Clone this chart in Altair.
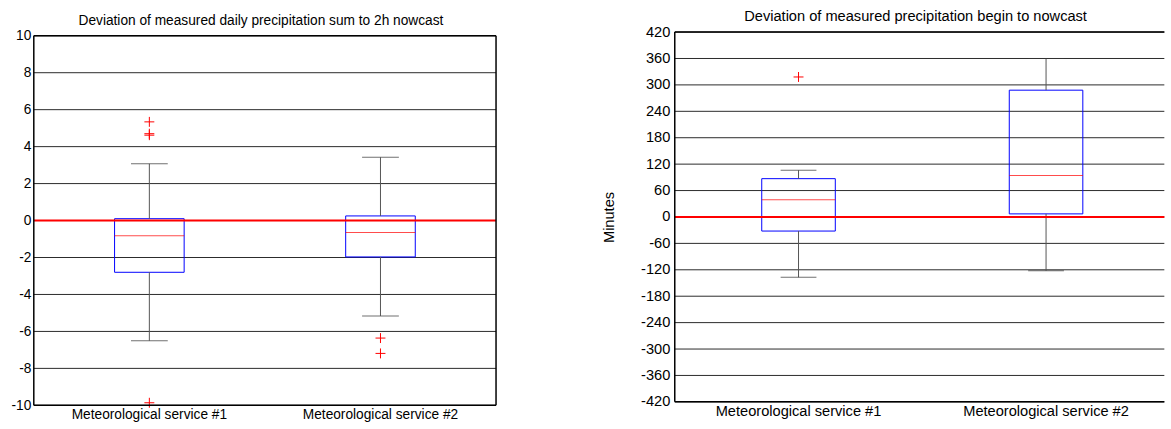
import altair as alt
import pandas as pd

services = ["Meteorological service #1", "Meteorological service #2"]

# Left panel: deviation of daily precipitation sum (box-plot statistics)
sum_lo = [-6.5, -5.16]
sum_q1 = [-2.8, -1.97]
sum_med = [-0.82, -0.65]
sum_q3 = [0.1, 0.25]
sum_hi = [3.07, 3.42]
sum_out_service = ["Meteorological service #1"] * 4 + ["Meteorological service #2"] * 2
sum_out_value = [5.34, 4.7, 4.62, -9.86, -6.36, -7.19]
sum_ticks = [-10, -8, -6, -4, -2, 0, 2, 4, 6, 8, 10]

# Right panel: deviation of precipitation begin (minutes)
begin_lo = [-137, -122]
begin_q1 = [-32, 7]
begin_med = [39, 94]
begin_q3 = [87, 288]
begin_hi = [106, 360]
begin_out_service = ["Meteorological service #1"]
begin_out_value = [318]
begin_ticks = [-420, -360, -300, -240, -180, -120, -60, 0, 60, 120, 180, 240, 300, 360, 420]

zero_line = [0]

FONT = "Liberation Sans"
PLUS = "M-1,0L1,0M0,-1L0,1"


def box_chart(lo, q1, med, q3, hi, out_s, out_v, ticks, title, fs, width, height,
              xrange, yrange, ytitle, title_offset, right_frame, box_w, cap_w,
              label_pad):
    stats = pd.DataFrame({"service": services, "lo": lo, "q1": q1, "med": med,
                          "q3": q3, "hi": hi})
    outs = pd.DataFrame({"service": out_s, "value": out_v})
    ref = pd.DataFrame({"y": zero_line})
    grid = pd.DataFrame({"y": ticks})
    edges = pd.DataFrame({"y": [ticks[0], ticks[-1]]})
    side = pd.DataFrame({"service": services, "y0": [ticks[0]] * 2,
                         "y1": [ticks[-1]] * 2})

    sc = dict(paddingInner=0, paddingOuter=0)
    if xrange is not None:
        sc["range"] = xrange
    xscale = alt.Scale(**sc)
    ysc = dict(domain=[ticks[0], ticks[-1]], nice=False, zero=False)
    if yrange is not None:
        ysc["range"] = yrange
    yscale = alt.Scale(**ysc)

    xax = alt.Axis(title=None, labelAngle=0, labelFontSize=fs, labelPadding=2,
                   ticks=False, tickSize=0, domain=False, labelColor="black",
                   labelFont=FONT, grid=False)
    yax_kw = dict(values=ticks, labelFontSize=fs, labelPadding=label_pad,
                  labelExpr="'' + datum.value",
                  ticks=False, tickSize=0, labelOverlap=False, domain=False,
                  labelColor="black", labelFont=FONT, grid=False)
    if ytitle:
        yax = alt.Axis(title=ytitle, titleFontSize=fs, titleFontWeight="normal",
                       titleFont=FONT, titleColor="black", titlePadding=24, **yax_kw)
    else:
        yax = alt.Axis(title=None, **yax_kw)

    def X(pos=None):
        if pos is None:
            return alt.X("service:N", sort=services, scale=xscale, axis=xax)
        return alt.X("service:N", sort=services, scale=xscale, axis=xax,
                     bandPosition=pos)

    def Y(field):
        return alt.Y(field, scale=yscale, axis=yax)

    gridl = alt.Chart(grid).mark_rule(color="#2a2a2a", strokeWidth=1).encode(
        y=Y("y:Q"))
    box = alt.Chart(stats).mark_bar(size=box_w, fillOpacity=0, stroke="#0000ff",
                                    strokeWidth=1).encode(
        x=X(), y=Y("q1:Q"), y2="q3:Q")
    wh_up = alt.Chart(stats).mark_rule(color="#555555", strokeWidth=1).encode(
        x=X(), y=Y("q3:Q"), y2="hi:Q")
    wh_dn = alt.Chart(stats).mark_rule(color="#555555", strokeWidth=1).encode(
        x=X(), y=Y("lo:Q"), y2="q1:Q")
    cap_hi = alt.Chart(stats).mark_tick(size=cap_w, thickness=1, color="#333333",
                                        orient="horizontal").encode(
        x=X(), y=Y("hi:Q"))
    cap_lo = alt.Chart(stats).mark_tick(size=cap_w, thickness=1, color="#333333",
                                        orient="horizontal").encode(
        x=X(), y=Y("lo:Q"))
    zero = alt.Chart(ref).mark_rule(color="#ff0000", strokeWidth=2).encode(
        y=Y("y:Q"))
    median = alt.Chart(stats).mark_tick(size=box_w, thickness=1, color="#ff0000",
                                        orient="horizontal").encode(
        x=X(), y=Y("med:Q"))
    outl = alt.Chart(outs).mark_point(shape=PLUS, size=100, filled=False,
                                      stroke="#ff0000", strokeWidth=1,
                                      opacity=1).encode(x=X(), y=Y("value:Q"))
    frame_h = alt.Chart(edges).mark_rule(color="black", strokeWidth=1.5).encode(
        y=Y("y:Q"))
    frame_l = alt.Chart(side.iloc[[0]]).mark_rule(color="black",
                                                  strokeWidth=1.5).encode(
        x=X(0), y=Y("y0:Q"), y2="y1:Q")
    layers = [gridl, box, wh_up, wh_dn, cap_hi, cap_lo, zero, median, outl,
              frame_h, frame_l]
    if right_frame:
        layers.append(alt.Chart(side.iloc[[1]]).mark_rule(
            color="black", strokeWidth=1.5).encode(x=X(1), y=Y("y0:Q"), y2="y1:Q"))
    return alt.layer(*layers).properties(
        width=width, height=height, view=alt.ViewBackground(stroke="transparent"),
        title=alt.TitleParams(title, fontSize=fs, font=FONT, fontWeight="normal",
                              color="black", offset=title_offset, frame="group",
                              dx=-4))


left = box_chart(sum_lo, sum_q1, sum_med, sum_q3, sum_hi, sum_out_service,
                 sum_out_value, sum_ticks,
                 "Deviation of measured daily precipitation sum to 2h nowcast",
                 13.8, 465, 375.5, None, [375.5, 3.7], None, 1, True, 70, 37, 3)
right = box_chart(begin_lo, begin_q1, begin_med, begin_q3, begin_hi,
                  begin_out_service, begin_out_value, begin_ticks,
                  "Deviation of measured precipitation begin to nowcast",
                  14.7, 492.5, 372, [0, 498], None, "Minutes", 0, False, 74, 36, 5)

chart = alt.hconcat(left, right, spacing=103.8).properties(
    padding={"left": 10, "top": 7, "right": 0, "bottom": 0},
    background="white",
)

chart.save("out.html", embed_options={"renderer": "svg", "actions": False})
